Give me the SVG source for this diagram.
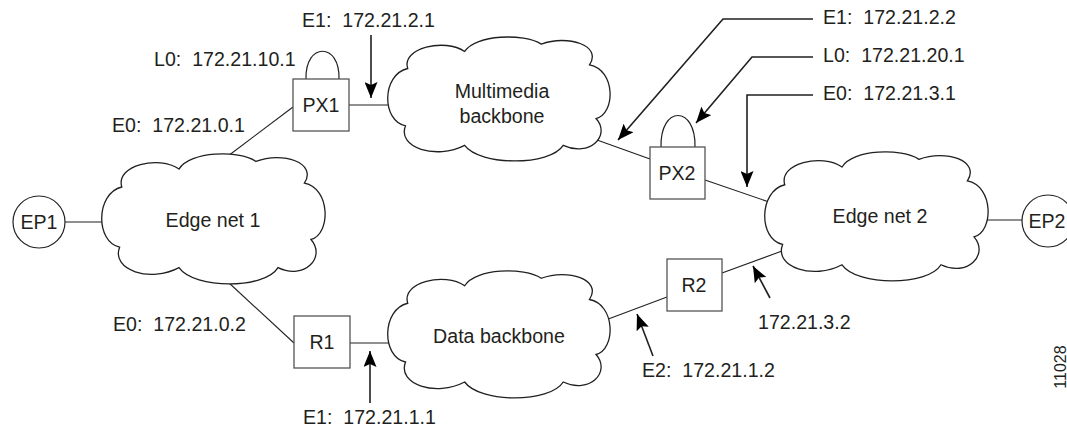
<svg xmlns="http://www.w3.org/2000/svg" width="1067" height="429" viewBox="0 0 1067 429">
<style>
  text { font-family: "Liberation Sans", Arial, sans-serif; font-size: 19.6px; fill: #231f20; white-space: pre; }
  .mid { text-anchor: middle; }
  .cloud { fill: #fff; stroke: #231f20; stroke-width: 1.3; vector-effect: non-scaling-stroke; }
  .box { fill: #fff; stroke: #555; stroke-width: 1.3; }
  .ep { fill: #fff; stroke: #231f20; stroke-width: 1.2; }
  .link { fill: none; stroke: #231f20; stroke-width: 1.1; }
  .loop { fill: none; stroke: #231f20; stroke-width: 1.2; }
  .ptr { fill: none; stroke: #231f20; stroke-width: 1.6; marker-end: url(#ah); }
  .small { font-size: 16px; }
</style>
<defs>
  <marker id="ah" markerWidth="16" markerHeight="13" refX="16" refY="6.5" orient="auto" markerUnits="userSpaceOnUse">
    <path d="M0,0 L16,6.5 L0,13 L3,6.5 Z" fill="#000"/>
  </marker>
</defs>
<rect width="1067" height="429" fill="#fff"/>

<g id="connectors">
  <line class="link" x1="65" y1="222" x2="103" y2="222"/>
  <line class="link" x1="228" y1="156" x2="293" y2="107"/>
  <line class="link" x1="349" y1="105" x2="390" y2="105"/>
  <line class="link" x1="228" y1="282" x2="294" y2="343"/>
  <line class="link" x1="350" y1="343" x2="389" y2="343"/>
  <line class="link" x1="597" y1="140" x2="650" y2="159"/>
  <line class="link" x1="705" y1="180" x2="772" y2="203"/>
  <line class="link" x1="603" y1="321" x2="667" y2="297"/>
  <line class="link" x1="722" y1="273" x2="782" y2="251"/>
  <line class="link" x1="984" y1="220" x2="1022" y2="220"/>
</g>

<g id="edge-net-1">
  <path class="cloud" transform="translate(102,155) scale(2.2,1.28)" d="M8,72 C-3,68 -3,30 9,25 C6,8 26,0 35,11 C40,-3 62,-4 70,5 C82,-3 98,6 92,22 C104,26 104,62 95,66 C102,80 92,98 80,88 C74,105 42,105 35,88 C22,100 4,90 8,72 Z"/>
  <text class="mid" x="213" y="227">Edge net 1</text>
</g>
<g id="multimedia-backbone">
  <path class="cloud" transform="translate(388,38) scale(2.19,1.22)" d="M8,72 C-3,68 -3,30 9,25 C6,8 26,0 35,11 C40,-3 62,-4 70,5 C82,-3 98,6 92,22 C104,26 104,62 95,66 C102,80 92,98 80,88 C74,105 42,105 35,88 C22,100 4,90 8,72 Z"/>
  <text class="mid" x="502" y="98">Multimedia</text>
  <text class="mid" x="502" y="123">backbone</text>
</g>
<g id="data-backbone">
  <path class="cloud" transform="translate(388,272) scale(2.19,1.25)" d="M8,72 C-3,68 -3,30 9,25 C6,8 26,0 35,11 C40,-3 62,-4 70,5 C82,-3 98,6 92,22 C104,26 104,62 95,66 C102,80 92,98 80,88 C74,105 42,105 35,88 C22,100 4,90 8,72 Z"/>
  <text class="mid" x="499" y="343">Data backbone</text>
</g>
<g id="edge-net-2">
  <path class="cloud" transform="translate(765,153) scale(2.2,1.27)" d="M8,72 C-3,68 -3,30 9,25 C6,8 26,0 35,11 C40,-3 62,-4 70,5 C82,-3 98,6 92,22 C104,26 104,62 95,66 C102,80 92,98 80,88 C74,105 42,105 35,88 C22,100 4,90 8,72 Z"/>
  <text class="mid" x="880" y="223">Edge net 2</text>
</g>

<g id="EP1">
  <circle class="ep" cx="39" cy="222" r="26"/>
  <text class="mid" x="39" y="229">EP1</text>
</g>
<g id="EP2">
  <circle class="ep" cx="1048" cy="221" r="26"/>
  <text class="mid" x="1047" y="228">EP2</text>
</g>

<g id="PX1">
  <path class="loop" d="M306,79 C305,42 340,42 339,79"/>
  <rect class="box" x="293" y="79" width="56" height="52"/>
  <text class="mid" x="321" y="112">PX1</text>
</g>
<g id="PX2">
  <path class="loop" d="M661,147 C660,105 696,105 695,147"/>
  <rect class="box" x="650" y="147" width="55" height="52"/>
  <text class="mid" x="677" y="180">PX2</text>
</g>
<g id="R1">
  <rect class="box" x="294" y="316" width="56" height="52"/>
  <text class="mid" x="322" y="349">R1</text>
</g>
<g id="R2">
  <rect class="box" x="667" y="259" width="55" height="52"/>
  <text class="mid" x="694" y="292">R2</text>
</g>

<g id="pointers">
  <path class="ptr" d="M371,35 L371,98"/>
  <path class="ptr" d="M813,19 L723,19 L618,140"/>
  <path class="ptr" d="M813,57 L752,57 L696,123"/>
  <path class="ptr" d="M813,95 L747,95 L747,187"/>
  <path class="ptr" d="M370,403 L370,351"/>
  <path class="ptr" d="M653,356 L637,314"/>
  <path class="ptr" d="M770,298 L753,266"/>
</g>

<g id="labels">
  <text x="302" y="27" xml:space="preserve">E1:  172.21.2.1</text>
  <text x="154" y="66" xml:space="preserve">L0:  172.21.10.1</text>
  <text x="112" y="132" xml:space="preserve">E0:  172.21.0.1</text>
  <text x="113" y="331" xml:space="preserve">E0:  172.21.0.2</text>
  <text x="303" y="424" xml:space="preserve">E1:  172.21.1.1</text>
  <text x="642" y="377" xml:space="preserve">E2:  172.21.1.2</text>
  <text x="758" y="329">172.21.3.2</text>
  <text x="823" y="24" xml:space="preserve">E1:  172.21.2.2</text>
  <text x="823" y="62" xml:space="preserve">L0:  172.21.20.1</text>
  <text x="823" y="100" xml:space="preserve">E0:  172.21.3.1</text>
  <text class="mid small" transform="translate(1066,367) rotate(-90)">11028</text>
</g>
</svg>
